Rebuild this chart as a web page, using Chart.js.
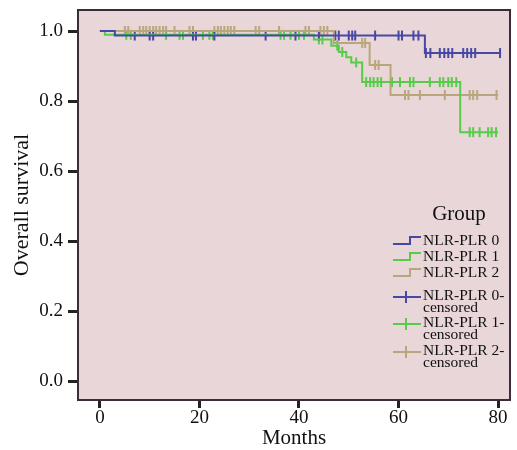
<!DOCTYPE html>
<html>
<head>
<meta charset="utf-8">
<script src="https://cdn.jsdelivr.net/npm/chart.js@4.4.1/dist/chart.umd.min.js"></script>
<style>
  body { margin: 0; background: #fff; }
  #wrap { width: 517px; height: 450px; }
</style>
</head>
<body>
<div id="wrap"><canvas id="myChart"></canvas></div>
<script>
// Gruppen und Achsen
const groups = ['NLR-PLR 0', 'NLR-PLR 1', 'NLR-PLR 2'];
const xTicks = [0, 20, 40, 60, 80];
const yTicks = [0, 0.2, 0.4, 0.6, 0.8, 1.0];

// Kaplan-Meier Stufen: Zeitpunkt (Monate) und Überleben danach
const times0 = [0, 3, 65.3, 80.6];
const surv0 = [1.0, 0.987, 0.937, 0.937];
const times1 = [0, 1, 43, 46.5, 48, 49.5, 50.5, 52.7, 72.4, 80];
const surv1 = [1.0, 0.989, 0.976, 0.958, 0.94, 0.925, 0.91, 0.854, 0.711, 0.711];
const times2 = [0, 47, 54.2, 58.4, 80];
const surv2 = [1.0, 0.966, 0.903, 0.817, 0.817];

// zensierte Fälle (Monate)
const cens0 = [7, 10, 10.7, 18.7, 19.3, 23, 33.3, 39.3, 44, 47.3, 48, 50, 50.7, 51.3, 55.3,
  60, 60.7, 63, 64, 65.5, 66.4, 68.3, 69.2, 70, 70.8, 73, 73.8, 74.6, 75.4, 80.4];
const cens1 = [5.3, 6.2, 13.3, 16, 16.7, 20.7, 22, 22.7, 36.3, 37, 38.3, 40, 41, 44, 44.7,
  47.7, 48.7, 51.5, 53.5, 54.3, 55, 55.8, 56.5, 58.7, 60.3, 62.3, 63, 66.3, 68.3, 69, 70,
  70.7, 71.6, 74.3, 75, 76.3, 78, 78.7, 79.6];
const cens2 = [5, 5.7, 8, 8.7, 9.3, 10, 10.7, 11.3, 12, 12.7, 13.3, 15, 18, 18.7, 23, 23.7,
  24.3, 25, 25.7, 26.3, 27, 31.3, 32, 36, 41.3, 42, 44.3, 45, 45.7, 52.7, 53.3, 55.3, 56,
  61.3, 62, 64.3, 69.3, 74.3, 75, 75.8, 79.7];

const colors = ['#4848a4', '#58cc48', '#b9a67c'];
const serif = "'Liberation Serif', 'Times New Roman', serif";

function survAt(times, surv, t) {
    let s = surv[0];
    for (let i = 0; i < times.length; i++) {
        if (times[i] <= t) s = surv[i];
    }
    return s;
}

const steps = [[times0, surv0], [times1, surv1], [times2, surv2]];
const cens = [cens0, cens1, cens2];

const datasets = [];
steps.forEach(([t, s], i) => {
    datasets.push({
        data: t.map((v, k) => ({ x: v, y: s[k] })),
        stepped: true,
        borderColor: colors[i],
        borderWidth: 2,
        pointRadius: 0,
        fill: false
    });
});
cens.forEach((c, i) => {
    const [t, s] = steps[i];
    datasets.push({
        data: c.map(v => ({ x: v, y: survAt(t, s, v) })),
        showLine: false,
        pointStyle: 'line',
        pointRotation: 90,
        pointRadius: 5,
        pointBorderWidth: 2,
        pointBorderColor: colors[i],
        borderColor: colors[i]
    });
});

// Hintergrund, Rahmen und Legende
const plotFrame = {
    id: 'plotFrame',
    beforeDraw(chart) {
        const { ctx, chartArea: a } = chart;
        ctx.save();
        ctx.fillStyle = '#e8d6d9';
        ctx.fillRect(a.left, a.top, a.right - a.left, a.bottom - a.top);
        ctx.restore();
    },
    afterDraw(chart) {
        const { ctx, chartArea: a } = chart;
        ctx.save();
        ctx.strokeStyle = '#3a2c38';
        ctx.lineWidth = 2;
        ctx.strokeRect(a.left, a.top, a.right - a.left, a.bottom - a.top);

        ctx.fillStyle = '#111';
        ctx.font = '21px ' + serif;
        ctx.textAlign = 'center';
        ctx.textBaseline = 'middle';
        ctx.fillText('Group', 459, 214);

        ctx.font = '15.5px ' + serif;
        ctx.textAlign = 'left';
        const lineRows = [241, 257, 273];
        groups.forEach((g, i) => {
            const y = lineRows[i];
            ctx.strokeStyle = colors[i];
            ctx.lineWidth = 2;
            ctx.beginPath();
            ctx.moveTo(393, y + 3);
            ctx.lineTo(410, y + 3);
            ctx.lineTo(410, y - 4);
            ctx.lineTo(421, y - 4);
            ctx.stroke();
            ctx.fillText(g, 423, y);
        });
        const censRows = [297, 324, 352];
        groups.forEach((g, i) => {
            const y = censRows[i];
            ctx.strokeStyle = colors[i];
            ctx.lineWidth = 2;
            ctx.beginPath();
            ctx.moveTo(393, y);
            ctx.lineTo(421, y);
            ctx.moveTo(406, y - 6);
            ctx.lineTo(406, y + 6);
            ctx.stroke();
            ctx.fillText(g + '-', 423, y - 1);
            ctx.fillText('censored', 423, y + 11);
        });
        ctx.restore();
    }
};

const ctx = document.getElementById('myChart').getContext('2d');
new Chart(ctx, {
    type: 'line',
    data: { datasets: datasets },
    plugins: [plotFrame],
    options: {
        responsive: true,
        maintainAspectRatio: false,
        animation: false,
        layout: { padding: { top: 10, right: 5, left: 0, bottom: 0 } },
        plugins: {
            legend: { display: false },
            tooltip: { enabled: false }
        },
        scales: {
            x: {
                type: 'linear',
                min: -4.4,
                max: 82.4,
                afterBuildTicks: s => { s.ticks = xTicks.map(v => ({ value: v })); },
                afterFit: s => { s.height = 50; s.paddingLeft = 0; s.paddingRight = 0; },
                grid: { drawOnChartArea: false, tickLength: 8, tickWidth: 3, tickColor: '#222' },
                border: { display: false },
                ticks: { padding: 1, color: '#111', font: { family: serif, size: 19, lineHeight: 1 }, maxRotation: 0, callback: v => v },
                title: { display: true, text: 'Months', color: '#111', font: { family: serif, size: 21, lineHeight: 1 }, padding: { top: 0, bottom: 1 } }
            },
            y: {
                type: 'linear',
                min: -0.054,
                max: 1.06,
                afterBuildTicks: s => { s.ticks = yTicks.map(v => ({ value: v })); },
                afterFit: s => { s.width = 78; s.paddingTop = 0; s.paddingBottom = 0; },
                grid: { drawOnChartArea: false, tickLength: 10, tickWidth: 3, tickColor: '#222' },
                border: { display: false },
                ticks: { padding: 5, color: '#111', font: { family: serif, size: 19 }, callback: v => v.toFixed(1) },
                title: { display: true, text: 'Overall survival', color: '#111', font: { family: serif, size: 22, lineHeight: 1 }, padding: { top: 11, bottom: 0 } }
            }
        }
    }
});
</script>
</body>
</html>
